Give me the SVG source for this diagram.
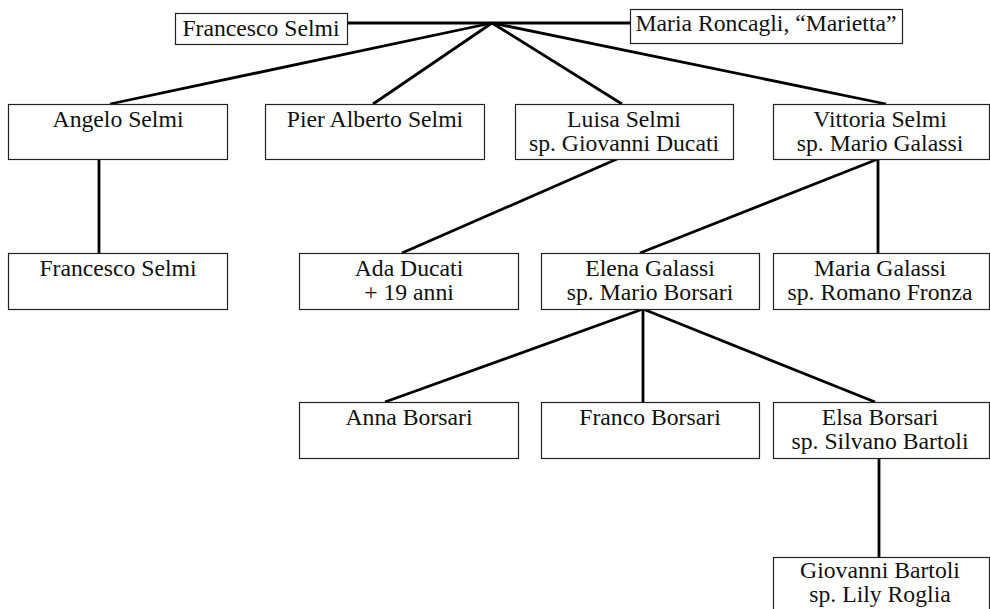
<svg xmlns="http://www.w3.org/2000/svg" width="990" height="609" viewBox="0 0 990 609">
<style>
.box{fill:#fff;stroke:#222;stroke-width:1.2}
.t{font-family:"Liberation Serif","Times New Roman",serif;font-size:23.7px;fill:#111;text-anchor:middle}
.c{stroke:#000;stroke-width:2.8;fill:none;stroke-linecap:butt}
</style>
<rect width="990" height="609" fill="#fff"/>
<g id="connectors">
<line class="c" x1="347" y1="23" x2="630" y2="23"/>
<line class="c" x1="492" y1="23" x2="110" y2="104"/>
<line class="c" x1="492" y1="23" x2="373" y2="104"/>
<line class="c" x1="492" y1="23" x2="622" y2="104"/>
<line class="c" x1="492" y1="23" x2="886" y2="104"/>
<line class="c" x1="99" y1="159" x2="99" y2="253"/>
<line class="c" x1="617" y1="159" x2="402" y2="253"/>
<line class="c" x1="878" y1="159" x2="640" y2="253"/>
<line class="c" x1="878" y1="159" x2="878" y2="253"/>
<line class="c" x1="643" y1="309" x2="385" y2="402"/>
<line class="c" x1="643" y1="309" x2="643" y2="402"/>
<line class="c" x1="643" y1="309" x2="875" y2="402"/>
<line class="c" x1="879" y1="458" x2="879" y2="557"/>
</g>
<g id="francesco-selmi-top"><rect class="box" x="175.5" y="13.5" width="172" height="31"/><text class="t" x="261" y="36">Francesco Selmi</text></g>
<g id="maria-roncagli"><rect class="box" x="630.5" y="9.5" width="272" height="34"/><text class="t" x="766" y="31">Maria Roncagli, “Marietta”</text></g>
<g id="angelo-selmi"><rect class="box" x="8.5" y="104.5" width="219" height="55"/><text class="t" x="118" y="127">Angelo Selmi</text></g>
<g id="pier-alberto-selmi"><rect class="box" x="265.5" y="104.5" width="219" height="55"/><text class="t" x="375" y="127">Pier Alberto Selmi</text></g>
<g id="luisa-selmi"><rect class="box" x="515.5" y="104.5" width="218" height="55"/><text class="t" x="624" y="127">Luisa Selmi</text><text class="t" x="624" y="151">sp. Giovanni Ducati</text></g>
<g id="vittoria-selmi"><rect class="box" x="773.5" y="104.5" width="216" height="55"/><text class="t" x="880" y="127">Vittoria Selmi</text><text class="t" x="880" y="151">sp. Mario Galassi</text></g>
<g id="francesco-selmi-jr"><rect class="box" x="8.5" y="253.5" width="219" height="56"/><text class="t" x="118" y="276">Francesco Selmi</text></g>
<g id="ada-ducati"><rect class="box" x="299.5" y="253.5" width="219" height="56"/><text class="t" x="409" y="276">Ada Ducati</text><text class="t" x="409" y="300">+ 19 anni</text></g>
<g id="elena-galassi"><rect class="box" x="541.5" y="253.5" width="218" height="56"/><text class="t" x="650" y="276">Elena Galassi</text><text class="t" x="650" y="300">sp. Mario Borsari</text></g>
<g id="maria-galassi"><rect class="box" x="773.5" y="253.5" width="216" height="56"/><text class="t" x="880" y="276">Maria Galassi</text><text class="t" x="880" y="300">sp. Romano Fronza</text></g>
<g id="anna-borsari"><rect class="box" x="299.5" y="402.5" width="219" height="56"/><text class="t" x="409" y="425">Anna Borsari</text></g>
<g id="franco-borsari"><rect class="box" x="541.5" y="402.5" width="218" height="56"/><text class="t" x="650" y="425">Franco Borsari</text></g>
<g id="elsa-borsari"><rect class="box" x="773.5" y="402.5" width="216" height="56"/><text class="t" x="880" y="425">Elsa Borsari</text><text class="t" x="880" y="449">sp. Silvano Bartoli</text></g>
<g id="giovanni-bartoli"><rect class="box" x="773.5" y="557.5" width="216" height="60"/><text class="t" x="880" y="578">Giovanni Bartoli</text><text class="t" x="880" y="602">sp. Lily Roglia</text></g>
</svg>
